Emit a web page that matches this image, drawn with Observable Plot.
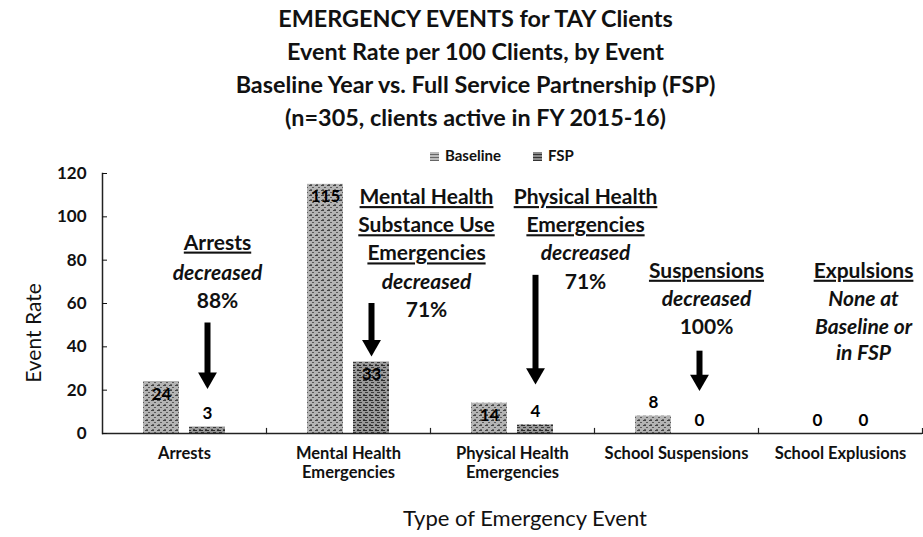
<!DOCTYPE html>
<html><head><meta charset="utf-8">
<script src="https://cdn.jsdelivr.net/npm/d3@7"></script>
<script src="https://cdn.jsdelivr.net/npm/@observablehq/plot@0.6"></script>
<style>
html,body{margin:0;padding:0;background:#fff;overflow:hidden}
body{font-family:Lato,"Open Sans",sans-serif;color:#111}
#wrap{position:relative;width:923px;height:537px}
#title{height:135px;box-sizing:border-box;padding-top:2px;padding-left:28px;text-align:center;font-weight:bold;font-size:23.4px;line-height:33px}
#legend{position:absolute;top:146px;left:430px;font-size:15px;font-weight:bold;display:flex;gap:32px;align-items:center}
#legend span.sw{display:inline-block;width:9px;height:9px;margin-right:6px;vertical-align:0px}
#ylab{position:absolute;left:32px;top:333px;transform:translate(-50%,-50%) rotate(-90deg);font-size:21px;white-space:nowrap}
#xlab{position:absolute;left:525px;top:517px;transform:translate(-50%,-50%);font-size:22px;white-space:nowrap}
[aria-description="anno-head"] text, text[aria-label="anno-head"]{text-decoration:underline}
</style></head><body>
<div id="wrap">
  <div id="title"></div>
  <div id="chart"></div>
  <div id="legend"></div>
  <div id="ylab"></div>
  <div id="xlab"></div>
</div>
<script>
// ---- data ----
const titleLines = [
  "EMERGENCY EVENTS for TAY Clients",
  "Event Rate per 100 Clients, by Event",
  "Baseline Year vs. Full Service Partnership (FSP)",
  "(n=305, clients active in FY 2015-16)"
];
const categories = ["Arrests", "Mental Health\nEmergencies", "Physical Health\nEmergencies", "School Suspensions", "School Explusions"];
const seriesNames = ["Baseline", "FSP"];
const baselineRates = [24, 115, 14, 8, 0];
const fspRates = [3, 33, 4, 0, 0];
const yTicks = [0, 20, 40, 60, 80, 100, 120];
const yLabel = "Event Rate";
const xLabel = "Type of Emergency Event";

// arrows: category index, start value, tip value
const arrowCategory = [0, 1, 2, 3];
const arrowFrom = [51, 60, 73, 38];
const arrowTo = [21, 36, 23, 20];

// annotation text lines (category index, text, kind, value level)
const annotationLines = [
  {cat: 0, text: "Arrests", kind: "head", y: 88},
  {cat: 0, text: "decreased", kind: "note", y: 74},
  {cat: 0, text: "88%", kind: "pct", y: 61},
  {cat: 1, text: "Mental Health", kind: "head", y: 109},
  {cat: 1, text: "Substance Use", kind: "head", y: 96},
  {cat: 1, text: "Emergencies", kind: "head", y: 83},
  {cat: 1, text: "decreased", kind: "note", y: 70},
  {cat: 1, text: "71%", kind: "pct", y: 57},
  {cat: 2, text: "Physical Health", kind: "head", y: 109},
  {cat: 2, text: "Emergencies", kind: "head", y: 96},
  {cat: 2, text: "decreased", kind: "note", y: 83},
  {cat: 2, text: "71%", kind: "pct", y: 70},
  {cat: 3, text: "Suspensions", kind: "head", y: 75},
  {cat: 3, text: "decreased", kind: "note", y: 62},
  {cat: 3, text: "100%", kind: "pct", y: 49},
  {cat: 4, text: "Expulsions", kind: "head", y: 75},
  {cat: 4, text: "None at", kind: "note", y: 62},
  {cat: 4, text: "Baseline or", kind: "note", y: 49},
  {cat: 4, text: "in FSP", kind: "note", y: 37}
];
// horizontal layout offset of each annotation block (px, relative to FSP bar)
const annotationDx = [10, 55, 50, 7, 0];

// ---- build ----
document.getElementById("title").innerHTML = titleLines.map(t => `<div>${t}</div>`).join("");
document.getElementById("ylab").textContent = yLabel;
document.getElementById("xlab").textContent = xLabel;

const fills = {Baseline: "url(#pbase)", FSP: "url(#pfsp)"};
document.getElementById("legend").innerHTML = seriesNames.map(s =>
  `<span><span class="sw" style="background:${s === "Baseline" ? "repeating-linear-gradient(0deg,#666 0 1px,#bbb 1px 3px)" : "repeating-linear-gradient(0deg,#333 0 1px,#8a8a8a 1px 3px)"}"></span>${s}</span>`).join("");

const rows = categories.flatMap((c, i) => [
  {category: c, series: "Baseline", value: baselineRates[i]},
  {category: c, series: "FSP", value: fspRates[i]}
]);
const arrows = arrowCategory.map((ci, i) => ({category: categories[ci], from: arrowFrom[i], to: arrowTo[i]}));

const kindStyle = {
  head: {fontWeight: "bold", fontStyle: "normal"},
  note: {fontWeight: "bold", fontStyle: "italic"},
  pct: {fontWeight: "bold", fontStyle: "normal"}
};

const annoMarks = categories.flatMap((c, i) =>
  ["head", "note", "pct"].map(k => Plot.text(
    annotationLines.filter(d => d.cat === i && d.kind === k),
    {fx: d => categories[d.cat], x: () => "FSP", y: "y", text: "text",
     dx: annotationDx[i], fontSize: 21, fill: "#111", ariaDescription: "anno-" + k, ...kindStyle[k]})));

const plot = Plot.plot({
  width: 923, height: 402,
  marginLeft: 101, marginRight: 0, marginTop: 38, marginBottom: 104,
  style: {fontFamily: "Lato, 'Open Sans', sans-serif", color: "#111", background: "transparent", overflow: "visible"},
  fx: {domain: categories, padding: 0, label: null},
  x: {domain: seriesNames, paddingInner: 0.21, paddingOuter: 0.87, axis: null},
  y: {domain: [0, 120], axis: null},
  marks: [
    Plot.barY(rows.filter(d => d.series === "Baseline"), {fx: "category", x: "series", y: "value", fill: fills.Baseline}),
    Plot.barY(rows.filter(d => d.series === "FSP"), {fx: "category", x: "series", y: "value", fill: fills.FSP}),
    Plot.ruleY([0], {stroke: "#222", strokeWidth: 1.5}),
    Plot.frame({anchor: "left", facetAnchor: "left", stroke: "#222", strokeWidth: 1.5}),
    Plot.frame({anchor: "right", insetTop: 255, stroke: "#222", strokeWidth: 1.2}),
    Plot.axisY({ticks: yTicks, anchor: "left", tickSize: -5, tickPadding: 21, fontSize: 17, fontWeight: "bold", label: null}),
    Plot.axisFx({anchor: "bottom", tickSize: 0, tickPadding: 12, fontSize: 16.5, fontWeight: "bold", label: null, lineHeight: 1.15}),
    Plot.text(rows.filter(d => d.value >= 10), {fx: "category", x: "series", y: "value", text: d => String(d.value), lineAnchor: "top", dy: 6, fontSize: 17, fontWeight: "bold", fill: "#000"}),
    Plot.text(rows.filter(d => d.value < 10), {fx: "category", x: "series", y: "value", text: d => String(d.value), lineAnchor: "bottom", dy: -8, fontSize: 17, fontWeight: "bold", fill: "#000"}),
    Plot.ruleX(arrows, {fx: "category", x: () => "FSP", y1: "from", y2: "to", stroke: "#000", strokeWidth: 6, insetBottom: 8}),
    Plot.dot(arrows, {fx: "category", x: () => "FSP", y: "to", symbol: "triangle", r: 7, rotate: 180, fill: "#000", stroke: "none", dy: -10}),
    ...annoMarks
  ]
});

// textured fills for the bars
const defs = d3.select(plot).insert("defs", ":first-child");
const pb = defs.append("pattern").attr("id", "pbase").attr("width", 6).attr("height", 5).attr("patternUnits", "userSpaceOnUse");
pb.append("rect").attr("width", 6).attr("height", 5).attr("fill", "#b4b4b4");
pb.append("rect").attr("x", 0).attr("y", 0).attr("width", 3).attr("height", 1).attr("fill", "#444");
pb.append("rect").attr("x", 3).attr("y", 2).attr("width", 2).attr("height", 1).attr("fill", "#5a5a5a");
pb.append("rect").attr("x", 1).attr("y", 4).attr("width", 2).attr("height", 1).attr("fill", "#6a6a6a");
const pf = defs.append("pattern").attr("id", "pfsp").attr("width", 6).attr("height", 5).attr("patternUnits", "userSpaceOnUse");
pf.append("rect").attr("width", 6).attr("height", 5).attr("fill", "#999");
pf.append("rect").attr("x", 0).attr("y", 0).attr("width", 4).attr("height", 1).attr("fill", "#2a2a2a");
pf.append("rect").attr("x", 2).attr("y", 2).attr("width", 3).attr("height", 1).attr("fill", "#3a3a3a");
pf.append("rect").attr("x", 0).attr("y", 4).attr("width", 2).attr("height", 1).attr("fill", "#4a4a4a");

document.getElementById("chart").appendChild(plot);
// underline the annotation headings
d3.select(plot).selectAll('[aria-description="anno-head"] text').style("text-decoration", "underline");
</script>
</body></html>
